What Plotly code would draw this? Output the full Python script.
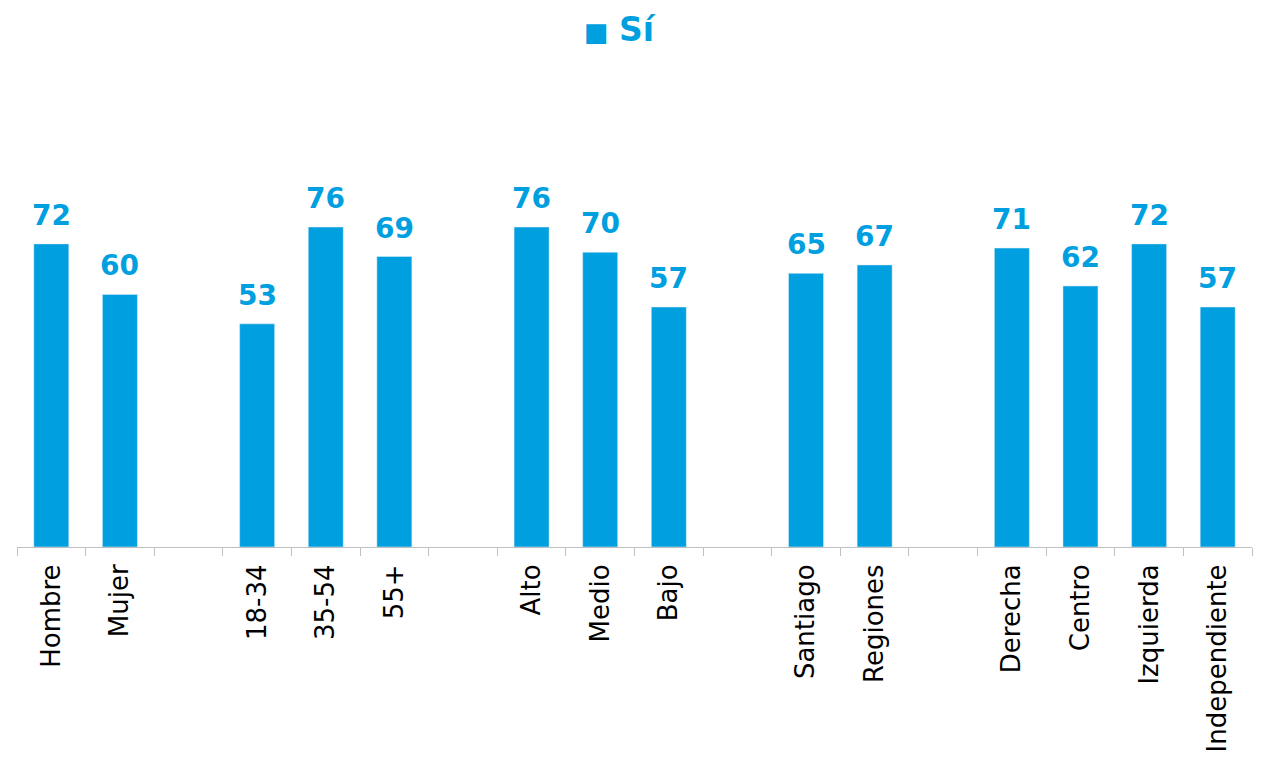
import plotly.graph_objects as go

categories = ["Hombre", "Mujer", " ", "18-34", "35-54", "55+", "  ",
              "Alto", "Medio", "Bajo", "   ", "Santiago", "Regiones", "    ",
              "Derecha", "Centro", "Izquierda", "Independiente"]
values = [72, 60, None, 53, 76, 69, None, 76, 70, 57, None, 65, 67, None,
          71, 62, 72, 57]
series_name = "Sí"
color = "#009FE0"

fig = go.Figure()
fig.add_trace(go.Bar(
    x=categories, y=values, name=series_name,
    marker_color=color, showlegend=False,
))

annotations = []
for c, v in zip(categories, values):
    if v is None:
        continue
    annotations.append(dict(
        x=c, y=v, xref="x", yref="y", text="<b>%d</b>" % v,
        showarrow=False, yanchor="bottom", yshift=10,
        font=dict(family="DejaVu Sans", size=28, color=color),
    ))

annotations.append(dict(
    xref="paper", yref="paper", x=0.488, y=1 + 118 / 421,
    xanchor="center", yanchor="top", showarrow=False,
    text="<span style='font-size:26px'>■</span> <b>" + series_name + "</b>",
    font=dict(family="DejaVu Sans", size=33, color=color),
))

fig.update_layout(
    width=1245, height=745,
    margin=dict(l=9, r=1, t=118, b=206),
    paper_bgcolor="white", plot_bgcolor="white",
    bargap=0.49,
    font=dict(family="DejaVu Sans", color="#000000"),
    xaxis=dict(
        type="category", categoryorder="array", categoryarray=categories,
        tickangle=-90, tickson="boundaries", ticks="outside", ticklen=8,
        tickcolor="#bfbfbf", showline=True, linecolor="#bfbfbf", linewidth=1,
        tickfont=dict(family="DejaVu Sans", size=26, color="#000000"),
        ticklabelstandoff=6,
        showgrid=False, zeroline=False, automargin=False,
    ),
    yaxis=dict(range=[0, 100], visible=False, showgrid=False,
               zeroline=False, automargin=False),
    annotations=annotations,
)

fig.write_html("out.html")
